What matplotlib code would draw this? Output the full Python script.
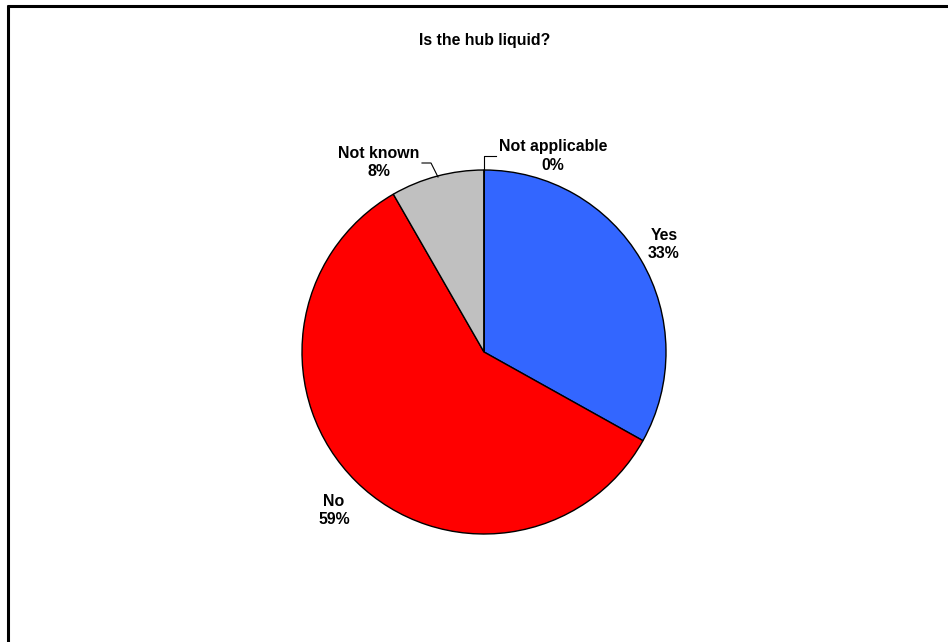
import matplotlib
matplotlib.use("Agg")
import matplotlib.pyplot as plt

# -------------------------
# Data
# -------------------------
title = "Is the hub liquid?"
categories = ["Yes", "No", "Not known", "Not applicable"]
shares = [33.1, 58.6, 8.3, 0.0]
pct_labels = ["33%", "59%", "8%", "0%"]
colors = ["#3366FF", "#FF0000", "#C0C0C0", "#FFFF99"]

plt.rcParams["font.family"] = ["Liberation Sans", "DejaVu Sans"]

W, H = 948, 642
fig = plt.figure(figsize=(W / 100, H / 100), dpi=100)
ax = fig.add_axes([0, 0, 1, 1])


def py(y):
    # pixel row -> data y
    return H - y


# -------------------------
# Pie
# -------------------------
ax.pie(
    shares,
    colors=colors,
    startangle=90,
    counterclock=False,
    center=(484, py(352)),
    radius=182,
    wedgeprops={"edgecolor": "black", "linewidth": 1.0},
)
ax.set_xlim(0, W)
ax.set_ylim(0, H)
ax.set_aspect("equal")
ax.axis("off")

# -------------------------
# Frame (only left and top edges are inside the picture)
# -------------------------
ax.plot([8.5, 8.5], [py(H), py(4.5)], color="black", lw=2.2,
        solid_capstyle="butt")
ax.plot([7.4, W], [py(5.5), py(5.5)], color="black", lw=2.2,
        solid_capstyle="butt")

# -------------------------
# Labels
# -------------------------
label_pos = {
    "Yes": (664, 244),
    "No": (334, 511),
    "Not known": (379, 163),
    "Not applicable": (553, 156),
}
for cat, pct in zip(categories, pct_labels):
    x, y = label_pos[cat]
    ax.text(x, py(y), f"{cat}\n{pct}", ha="center", va="center",
            fontsize=11.4, fontweight="bold", linespacing=1.25)

# leader lines
ax.plot([422, 431, 438], [py(163), py(163), py(177)], color="black", lw=0.8)
ax.plot([484, 484, 496], [py(171), py(156), py(156)], color="black", lw=0.8)

ax.text(485, py(40), title, ha="center", va="center",
        fontsize=11.4, fontweight="bold")

fig.savefig("out.png", dpi=100)
